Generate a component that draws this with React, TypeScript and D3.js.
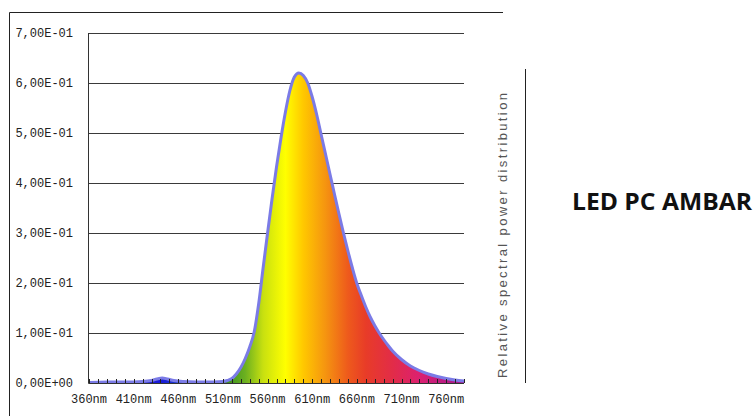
import { useRef, useEffect } from "react";
import * as d3 from "d3";

// spectrum readings (nm -> relative power)
const wavelengths = [360, 380, 400, 420, 430, 436, 442, 448, 455, 465, 480, 500, 510, 515, 520, 525, 530, 535, 540, 545, 550, 555, 560, 565, 570, 575, 580, 585, 590, 595, 600, 605, 610, 615, 620, 625, 630, 635, 640, 645, 650, 655, 660, 665, 670, 675, 680, 685, 690, 695, 700, 710, 720, 730, 740, 750, 760, 770, 780]
const power = [0.001, 0.002, 0.002, 0.003, 0.005, 0.008, 0.010, 0.008, 0.005, 0.003, 0.002, 0.002, 0.003, 0.005, 0.009, 0.018, 0.031, 0.049, 0.072, 0.102, 0.158, 0.23, 0.30, 0.368, 0.432, 0.49, 0.542, 0.585, 0.612, 0.62, 0.615, 0.60, 0.572, 0.537, 0.497, 0.457, 0.417, 0.377, 0.338, 0.30, 0.264, 0.23, 0.199, 0.175, 0.152, 0.132, 0.115, 0.10, 0.087, 0.075, 0.064, 0.047, 0.034, 0.025, 0.018, 0.013, 0.009, 0.006, 0.004]

const yTicks = [0, 0.1, 0.2, 0.3, 0.4, 0.5, 0.6, 0.7]
const yTickLabels = ["0,00E+00", "1,00E-01", "2,00E-01", "3,00E-01", "4,00E-01", "5,00E-01", "6,00E-01", "7,00E-01"]
const xLabelNm = [360, 410, 460, 510, 560, 610, 660, 710, 760]
const xMinorTicks = d3.range(360, 781, 10)

// spectrum fill colours
const stopNm = [360, 440, 480, 515, 535, 555, 580, 600, 625, 650, 670, 700, 730, 780]
const stopColor = ["#2a2ad0", "#1818d8", "#2060c0", "#3a9020", "#6cb020", "#c8e010", "#ffff00", "#ffc800", "#f59410", "#ee5a1c", "#e83c28", "#e22c48", "#dc2070", "#a01890"]

const W = 755
const H = 416

const App = () => {
    const svgRef = useRef(null)

    useEffect(() => {
        const svg = d3.select(svgRef.current)
        svg.selectAll("*").remove()

        const plot = { left: 89, right: 464, top: 33, bottom: 383 }

        const x = d3.scaleLinear().domain([360, 780]).range([plot.left, plot.right])
        const y = d3.scaleLinear().domain([0, 0.7]).range([plot.bottom, plot.top])

        // outer frame (top + left only)
        svg.append("path")
            .attr("d", `M9.5,${H} V12.5 H503`)
            .attr("fill", "none")
            .attr("stroke", "#222")

        const grad = svg.append("defs").append("linearGradient")
            .attr("id", "spec")
            .attr("gradientUnits", "userSpaceOnUse")
            .attr("x1", x(360)).attr("x2", x(780))
            .attr("y1", 0).attr("y2", 0)
        stopNm.forEach((nm, i) => {
            grad.append("stop")
                .attr("offset", (nm - 360) / 420)
                .attr("stop-color", stopColor[i])
        })

        // gridlines
        svg.append("g")
            .selectAll("line")
            .data(yTicks.slice(1))
            .join("line")
            .attr("x1", plot.left).attr("x2", plot.right)
            .attr("y1", d => Math.round(y(d)) + 0.5).attr("y2", d => Math.round(y(d)) + 0.5)
            .attr("stroke", "#3a3a3a")

        const series = wavelengths.map((w, i) => ({ w, v: power[i] }))

        const area = d3.area()
            .x(d => x(d.w))
            .y0(y(0))
            .y1(d => y(d.v))
            .curve(d3.curveMonotoneX)
        svg.append("path")
            .datum(series)
            .attr("d", area)
            .attr("fill", "url(#spec)")

        const line = d3.line()
            .x(d => x(d.w))
            .y(d => y(d.v))
            .curve(d3.curveMonotoneX)
        svg.append("path")
            .datum(series)
            .attr("d", line)
            .attr("fill", "none")
            .attr("stroke", "#7b7be6")
            .attr("stroke-width", 3)
            .attr("stroke-linejoin", "round")

        // axes lines
        svg.append("path")
            .attr("d", `M${plot.left - 0.5},${plot.top} V${plot.bottom + 0.5} H${plot.right}`)
            .attr("fill", "none")
            .attr("stroke", "#333")

        // small upward ticks every 10nm
        svg.append("g")
            .selectAll("line")
            .data(xMinorTicks)
            .join("line")
            .attr("x1", d => Math.round(x(d)) + 0.5).attr("x2", d => Math.round(x(d)) + 0.5)
            .attr("y1", plot.bottom).attr("y2", plot.bottom - 4)
            .attr("stroke", "#222")

        const mono = "'Liberation Mono', 'DejaVu Sans Mono', monospace"

        svg.append("g")
            .selectAll("text")
            .data(yTicks)
            .join("text")
            .attr("x", 73)
            .attr("y", d => y(d) + 4)
            .attr("text-anchor", "end")
            .attr("font-family", mono)
            .attr("font-size", 12)
            .attr("fill", "#222")
            .text((d, i) => yTickLabels[i])

        svg.append("g")
            .selectAll("text")
            .data(xLabelNm)
            .join("text")
            .attr("x", d => x(d))
            .attr("y", 403)
            .attr("text-anchor", "middle")
            .attr("font-family", mono)
            .attr("font-size", 12)
            .attr("fill", "#222")
            .text(d => `${d}nm`)

        // side label
        svg.append("text")
            .attr("transform", "translate(507,235.5) rotate(-90)")
            .attr("text-anchor", "middle")
            .attr("font-family", "'Liberation Sans', Arial, sans-serif")
            .attr("font-size", 13)
            .attr("fill", "#555")
            .attr("textLength", 285)
            .attr("lengthAdjust", "spacing")
            .text("Relative spectral power distribution")

        svg.append("line")
            .attr("x1", 525.5).attr("x2", 525.5)
            .attr("y1", 69).attr("y2", 383)
            .attr("stroke", "#222")

        svg.append("text")
            .attr("x", 572)
            .attr("y", 210)
            .attr("font-family", "'Open Sans', 'Liberation Sans', sans-serif")
            .attr("font-weight", "bold")
            .attr("font-size", 24)
            .attr("fill", "#111")
            .attr("textLength", 180)
            .attr("lengthAdjust", "spacingAndGlyphs")
            .text("LED PC AMBAR")
    }, [])

    return (
        <svg ref={svgRef} width={W} height={H} style={{ position: "absolute", left: 0, top: 0, background: "#fff" }}></svg>
    )
}

export default App;
